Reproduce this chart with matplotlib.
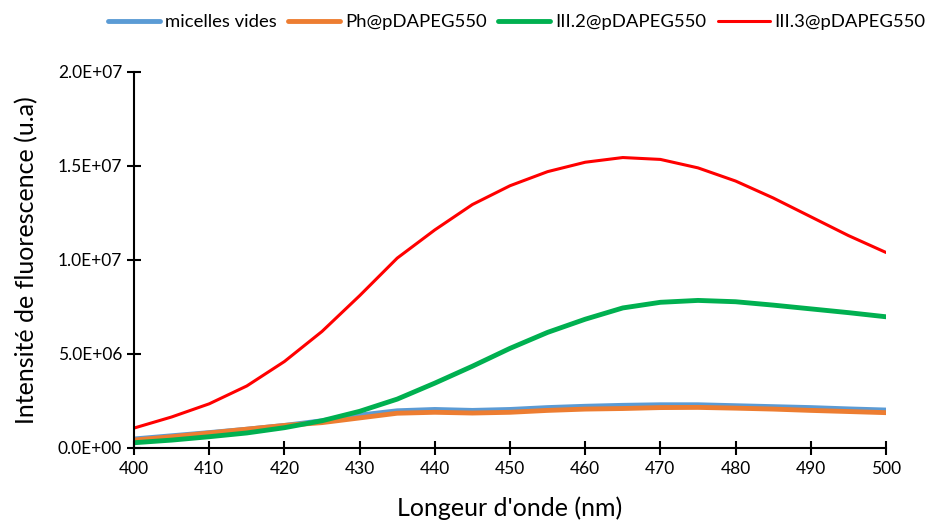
import matplotlib
matplotlib.use("Agg")
import matplotlib.pyplot as plt
from matplotlib.ticker import FuncFormatter, MultipleLocator

plt.rcParams['font.family'] = ['Lato', 'DejaVu Sans']

wavelength = [400, 405, 410, 415, 420, 425, 430, 435, 440, 445, 450,
              455, 460, 465, 470, 475, 480, 485, 490, 495, 500]
micelles_vides = [0.48, 0.65, 0.82, 1.0, 1.2, 1.45, 1.75, 1.98, 2.05, 2.0, 2.05,
                  2.15, 2.22, 2.27, 2.3, 2.3, 2.25, 2.2, 2.15, 2.08, 2.02]
ph_pdapeg = [0.42, 0.6, 0.8, 1.0, 1.2, 1.35, 1.6, 1.85, 1.9, 1.86, 1.9,
             2.0, 2.07, 2.1, 2.15, 2.16, 2.12, 2.07, 2.0, 1.94, 1.88]
iii2_pdapeg = [0.28, 0.42, 0.6, 0.8, 1.08, 1.45, 1.95, 2.6, 3.45, 4.35, 5.3,
               6.15, 6.85, 7.45, 7.75, 7.85, 7.78, 7.6, 7.4, 7.2, 6.98]
iii3_pdapeg = [1.06, 1.65, 2.35, 3.3, 4.6, 6.2, 8.1, 10.1, 11.6, 12.95, 13.95,
               14.7, 15.2, 15.45, 15.35, 14.9, 14.2, 13.3, 12.3, 11.3, 10.4]
labels = ["micelles vides", "Ph@pDAPEG550", "III.2@pDAPEG550", "III.3@pDAPEG550"]

scale = 1e6
fig = plt.figure(figsize=(9.27, 5.24), dpi=100)
ax = fig.add_axes([134/927, 1-448/524, (886-134)/927, (448-72)/524])

ax.plot(wavelength, [v*scale for v in micelles_vides], color='#5b9bd5', lw=3.5, label=labels[0], solid_capstyle='round', solid_joinstyle='round')
ax.plot(wavelength, [v*scale for v in ph_pdapeg], color='#ed7d31', lw=3.5, label=labels[1], solid_capstyle='round', solid_joinstyle='round')
ax.plot(wavelength, [v*scale for v in iii2_pdapeg], color='#00b050', lw=3.5, label=labels[2], solid_capstyle='round', solid_joinstyle='round')
ax.plot(wavelength, [v*scale for v in iii3_pdapeg], color='#ff0000', lw=2.2, label=labels[3], solid_capstyle='round', solid_joinstyle='round')

ax.set_xlim(400, 500)
ax.set_ylim(0, 2e7)
ax.xaxis.set_major_locator(MultipleLocator(10))
ax.yaxis.set_major_locator(MultipleLocator(5e6))
ax.yaxis.set_major_formatter(FuncFormatter(lambda v, pos: "%.1E" % v))

for s in ['top', 'right']:
    ax.spines[s].set_visible(False)
for s in ['left', 'bottom']:
    ax.spines[s].set_linewidth(1.5)
    ax.spines[s].set_color('black')
ax.tick_params(axis='both', direction='inout', length=10, width=1.5, labelsize=12.5, colors='black')
ax.tick_params(axis='x', pad=4)

ax.set_xlabel("Longeur d'onde (nm)", fontsize=18, labelpad=14)
ax.set_ylabel("Intensité de fluorescence (u.a)", fontsize=18, labelpad=14)

leg = fig.legend(loc='center right', bbox_to_anchor=(0.998, 1 - 22/524), ncol=4, frameon=False,
                 fontsize=13.3, handlelength=2.8, columnspacing=0.65, handletextpad=0.25,
                 borderaxespad=0.0, borderpad=0.0)

fig.savefig("out.png", dpi=100)
